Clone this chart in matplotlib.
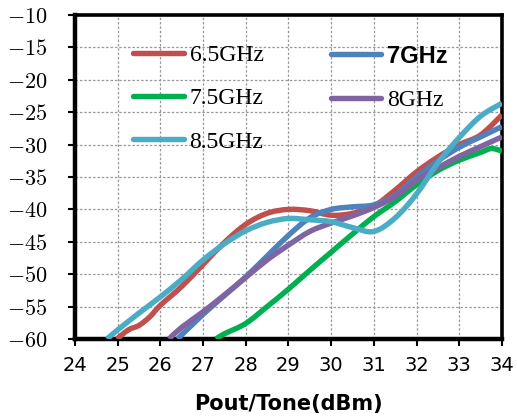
import numpy as np
import matplotlib
matplotlib.use('Agg')
import matplotlib.pyplot as plt
from matplotlib.path import Path
from matplotlib.patches import PathPatch
from matplotlib.lines import Line2D
from matplotlib.font_manager import FontProperties

plt.rcParams['mathtext.fontset'] = 'cm'

# values (Pout/Tone in dBm -> IMD in dBc)
x_65 = [24.98, 25.25, 25.5, 25.75, 26, 26.5, 27, 27.5, 28, 28.5, 29, 29.5, 30, 30.5, 31, 31.5, 32, 32.5, 33, 33.5, 34]
y_65 = [-60, -58.6, -57.9, -56.6, -54.8, -51.9, -48.5, -45.1, -42.3, -40.6, -40.0, -40.2, -40.9, -40.6, -39.5, -37.0, -34.2, -31.9, -30.0, -28.5, -25.4]

x_7 = [26.4, 27, 27.5, 28, 28.5, 29, 29.5, 30, 30.5, 31, 31.5, 32, 32.5, 33, 33.5, 34]
y_7 = [-60, -56.2, -53.3, -50.4, -47.2, -44.0, -41.3, -40.0, -39.6, -39.3, -37.8, -35.0, -32.5, -30.4, -28.8, -27.2]

x_75 = [27.3, 27.5, 28, 28.5, 29, 29.5, 30, 30.5, 31, 31.5, 32, 32.5, 33, 33.5, 33.75, 34]
y_75 = [-60, -59.2, -57.6, -55.0, -52.3, -49.4, -46.6, -43.8, -41.1, -38.8, -36.2, -34.0, -32.4, -31.2, -30.6, -31.0]

x_8 = [26.2, 26.5, 27, 27.5, 28, 28.5, 29, 29.5, 30, 30.5, 31, 31.5, 32, 32.5, 33, 33.5, 34]
y_8 = [-60, -58.2, -55.8, -53.2, -50.5, -47.8, -45.5, -43.4, -42.1, -41.0, -39.7, -38.0, -35.5, -33.6, -31.8, -30.3, -28.8]

x_85 = [24.75, 25, 25.5, 26, 26.5, 27, 27.5, 28, 28.5, 29, 29.5, 30, 30.5, 31, 31.5, 32, 32.5, 33, 33.5, 34]
y_85 = [-60, -58.6, -56.0, -53.5, -50.8, -47.8, -45.3, -43.3, -42.0, -41.4, -41.6, -41.9, -42.8, -43.4, -41.3, -37.6, -32.8, -28.9, -25.6, -23.6]

labels = ['6.5GHz', '7GHz', '7.5GHz', '8GHz', '8.5GHz']
colors = ['#C0504D', '#4F81BD', '#00B050', '#8064A2', '#4BACC6']
xticks = list(range(24, 35))
yticks = list(range(-60, -9, 5))


def smooth_path(xs, ys):
    # excel-like smoothed line: catmull-rom segments as cubic beziers
    pts = np.column_stack([xs, ys]).astype(float)
    n = len(pts)
    verts = [pts[0]]
    codes = [Path.MOVETO]
    for i in range(n - 1):
        p0 = pts[i - 1] if i > 0 else pts[i]
        p1 = pts[i]
        p2 = pts[i + 1]
        p3 = pts[i + 2] if i + 2 < n else pts[i + 1]
        verts += [p1 + (p2 - p0) / 6, p2 - (p3 - p1) / 6, p2]
        codes += [Path.CURVE4] * 3
    return Path(verts, codes)


fig = plt.figure(figsize=(5.17, 4.19), dpi=100)
ax = fig.add_axes([0.145, 0.191, 0.826, 0.773])

series = [(x_65, y_65), (x_7, y_7), (x_75, y_75), (x_8, y_8), (x_85, y_85)]
handles = []
for (xs, ys), c, lab in zip(series, colors, labels):
    ax.add_patch(PathPatch(smooth_path(xs, ys), fill=False, edgecolor=c,
                           lw=3.9, capstyle='butt', joinstyle='round', zorder=3))
    handles.append(Line2D([], [], color=c, lw=3.9, solid_capstyle='round', label=lab))

ax.set_xlim(24, 34)
ax.set_ylim(-60, -10)
ax.set_xticks(xticks)
ax.set_xticklabels([str(t) for t in xticks], fontsize=14, family='DejaVu Sans')
ax.set_yticks(yticks)
ax.set_yticklabels([r'$-%d$' % abs(t) for t in yticks], fontsize=16)
ax.tick_params(axis='both', direction='out', length=5, width=1.5, color='black')
ax.tick_params(axis='x', pad=7)
ax.tick_params(axis='y', pad=15)

ax.grid(True, color='#999999', linestyle=(0, (2, 1.5)), lw=0.9)
ax.set_axisbelow(True)
for side in ['left', 'bottom']:
    ax.spines[side].set_linewidth(3.2)
for side in ['top', 'right']:
    ax.spines[side].set_linewidth(2.6)

ax.set_xlabel('Pout/Tone(dBm)', fontsize=15, fontweight='bold', labelpad=14)

serif = FontProperties(family='Liberation Serif', size=17)
boldsans = FontProperties(family='Liberation Sans', weight='bold', size=17)

leg1 = ax.legend(handles=[handles[0], handles[2], handles[4]], loc='upper left',
                 bbox_to_anchor=(0.108, 0.945), frameon=False, handlelength=2.15,
                 handletextpad=0.25, labelspacing=0.92, borderpad=0, prop=serif)
ax.add_artist(leg1)
leg2 = ax.legend(handles=[handles[1], handles[3]], loc='upper left',
                 bbox_to_anchor=(0.571, 0.945), frameon=False, handlelength=2.15,
                 handletextpad=0.25, labelspacing=0.92, borderpad=0, prop=serif)
leg2.get_texts()[0].set_fontproperties(boldsans)

fig.savefig('out.png', dpi=100)
